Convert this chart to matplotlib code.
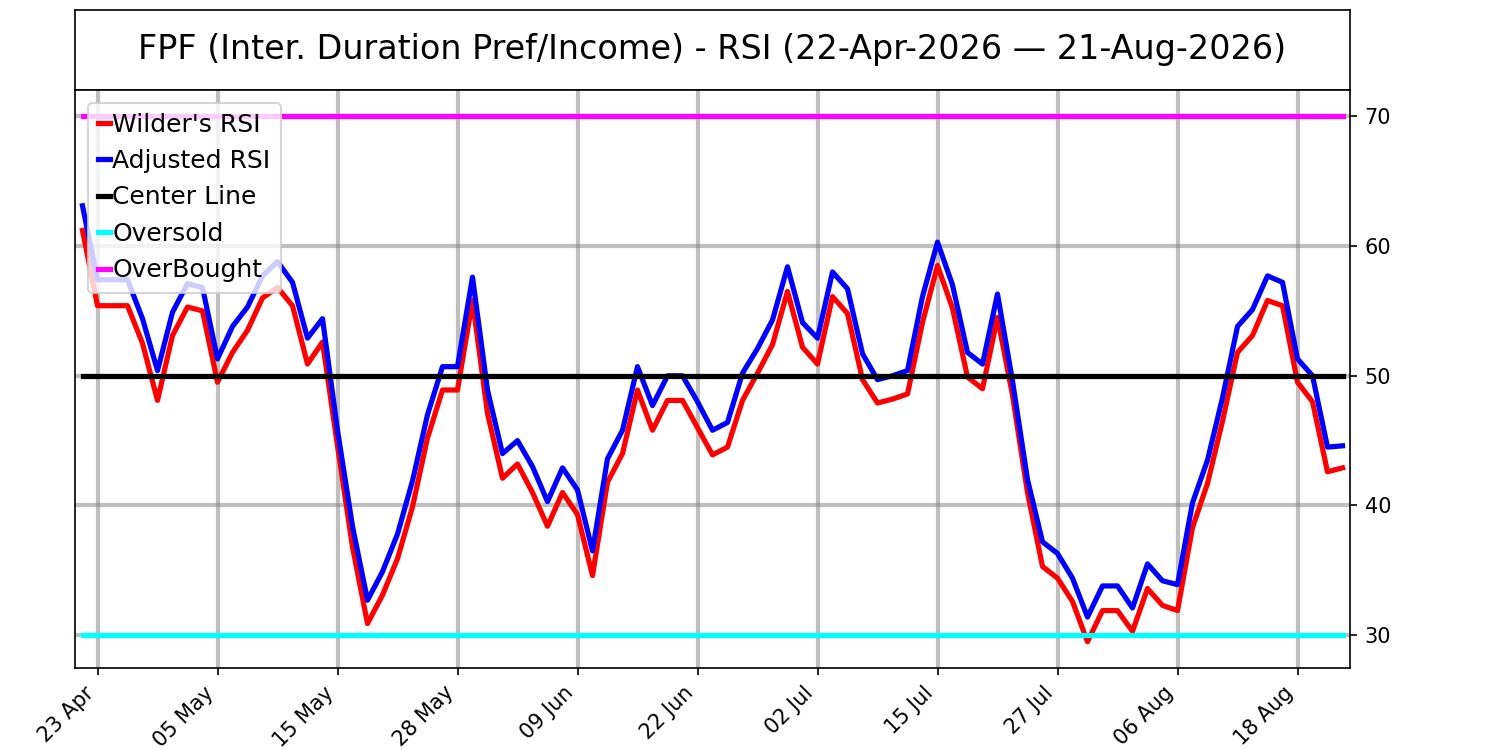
import numpy as np
import matplotlib
matplotlib.use("Agg")
import matplotlib.pyplot as plt
import pandas as pd

title = "FPF (Inter. Duration Pref/Income) - RSI (22-Apr-2026 \u2014 21-Aug-2026)"

holidays = ["2026-05-25", "2026-06-19", "2026-07-03"]

wilder = [61.2, 55.4, 55.4, 55.4, 52.5, 48.1, 53.1, 55.3, 55.0, 49.5,
          51.8, 53.5, 56.0, 56.8, 55.4, 50.9, 52.6, 44.6, 36.8, 30.9,
          33.1, 35.9, 39.9, 45.2, 48.9, 48.9, 55.8, 47.1, 42.1, 43.2,
          41.0, 38.4, 41.0, 39.3, 34.6, 41.8, 44.0, 48.9, 45.8, 48.1,
          48.1, 46.0, 43.9, 44.5, 48.1, 50.2, 52.4, 56.5, 52.2, 50.9,
          56.1, 54.8, 49.7, 47.9, 48.2, 48.6, 54.1, 58.5, 55.2, 49.9,
          49.0, 54.5, 48.5, 41.0, 35.3, 34.4, 32.6, 29.5, 31.9, 31.9,
          30.3, 33.6, 32.3, 31.9, 38.3, 41.7, 46.5, 51.8, 53.1, 55.8,
          55.4, 49.5, 48.0, 42.6, 42.9]

adjusted = [63.1, 57.4, 57.4, 57.4, 54.4, 50.4, 54.9, 57.1, 56.8, 51.3,
            53.8, 55.3, 57.7, 58.8, 57.2, 52.9, 54.4, 45.8, 38.4, 32.7,
            34.9, 37.8, 41.9, 47.0, 50.7, 50.7, 57.6, 48.9, 44.0, 45.0,
            43.0, 40.3, 42.9, 41.2, 36.5, 43.6, 45.8, 50.7, 47.7, 50.0,
            50.0, 48.0, 45.8, 46.4, 50.2, 52.1, 54.3, 58.4, 54.1, 52.9,
            58.0, 56.7, 51.7, 49.7, 50.0, 50.4, 56.1, 60.3, 57.0, 51.8,
            50.9, 56.3, 49.6, 42.0, 37.2, 36.3, 34.4, 31.4, 33.8, 33.8,
            32.1, 35.5, 34.2, 33.9, 40.2, 43.5, 48.3, 53.8, 55.1, 57.7,
            57.2, 51.3, 50.0, 44.5, 44.6]

center = 50
oversold = 30
overbought = 70


days = pd.bdate_range("2026-04-22", "2026-08-21")
days = days[~days.isin(pd.to_datetime(holidays))]
x = np.arange(len(days))
n = len(x)

fig = plt.figure(figsize=(10, 5), dpi=150)
gs = fig.add_gridspec(2, 1, height_ratios=[80, 578], hspace=0,
                      left=0.05, right=0.9, top=1 - 10 / 750, bottom=1 - 668 / 750)
tax = fig.add_subplot(gs[0])
ax = fig.add_subplot(gs[1])

tax.set_xticks([])
tax.set_yticks([])
tax.text(0.5, 0.5, title, ha="center", va="center", fontsize=16, transform=tax.transAxes)

ax.plot(x, wilder, color="red", lw=2.5, label="Wilder's RSI")
ax.plot(x, adjusted, color="blue", lw=2.5, label="Adjusted RSI")
ax.plot(x, [center] * n, color="black", lw=2.5, label="Center Line")
ax.plot(x, [oversold] * n, color="cyan", lw=2.5, label="Oversold")
ax.plot(x, [overbought] * n, color="magenta", lw=2.5, label="OverBought")

ticks = x[1::8]
ax.set_xticks(ticks)
ax.set_xticklabels([days[i].strftime("%d %b") for i in ticks], rotation=45, ha="right")
ax.set_xlim(-0.5, n - 0.5)
ax.yaxis.tick_right()
ax.set_yticks([30, 40, 50, 60, 70])
ax.grid(True, color="gray", alpha=0.5, lw=2)
ax.set_axisbelow(True)
ax.tick_params(labelsize=10)

ax.legend(loc="upper left", fontsize=12, handlelength=0.5, handletextpad=0.1)

plt.savefig("out.png")
